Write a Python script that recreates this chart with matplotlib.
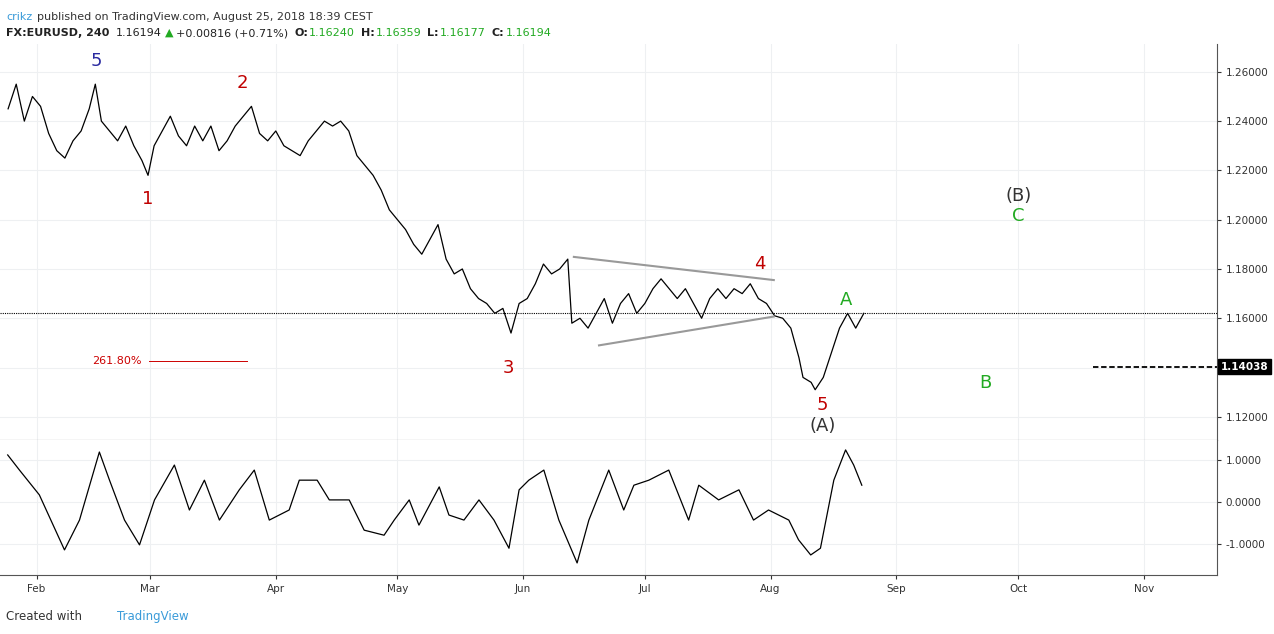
import matplotlib
matplotlib.use("Agg")
import matplotlib.pyplot as plt
import numpy as np

# day-of-year (0 = Jan 1) and EURUSD price
price_days = [24,26,28,30,32,34,36,38,40,42,44,45.5,47,49,51,53,55,57,58.5,60,62,64,66,68,70,72,74,76,78,80,82,84,86,88,90,92,94,96,98,100,102,104,106,108,110,112,114,116,118,120,122,124,126,128,130,132,134,136,138,140,142,144,146,148,150,152,154,156,158,160,162,163,165,167,169,171,173,175,177,179,181,183,185,187,189,191,193,195,197,199,201,203,205,207,209,211,213,215,217,219,220,222,223,225,227,229,231,233,235]
price_vals = [1.245,1.255,1.240,1.250,1.246,1.235,1.228,1.225,1.232,1.236,1.245,1.255,1.240,1.236,1.232,1.238,1.230,1.224,1.218,1.230,1.236,1.242,1.234,1.230,1.238,1.232,1.238,1.228,1.232,1.238,1.242,1.246,1.235,1.232,1.236,1.230,1.228,1.226,1.232,1.236,1.240,1.238,1.240,1.236,1.226,1.222,1.218,1.212,1.204,1.200,1.196,1.190,1.186,1.192,1.198,1.184,1.178,1.180,1.172,1.168,1.166,1.162,1.164,1.154,1.166,1.168,1.174,1.182,1.178,1.180,1.184,1.158,1.160,1.156,1.162,1.168,1.158,1.166,1.170,1.162,1.166,1.172,1.176,1.172,1.168,1.172,1.166,1.160,1.168,1.172,1.168,1.172,1.170,1.174,1.168,1.166,1.161,1.160,1.156,1.144,1.136,1.134,1.131,1.136,1.146,1.156,1.162,1.156,1.162]

osc_days = [23.9,26.8,31.7,37.9,41.6,46.5,49.0,52.7,56.4,60.1,65.0,68.7,72.4,76.1,81.0,84.7,88.4,93.3,95.8,100.2,103.2,108.1,111.8,116.7,119.2,122.9,125.3,130.3,132.7,136.4,140.1,143.8,147.5,150.0,152.4,156.1,159.8,164.3,167.2,172.1,175.8,178.3,182.0,186.9,191.8,194.3,199.2,204.2,207.8,211.5,216.5,218.9,221.9,224.3,227.6,230.5,232.5,234.5]
osc_vals = [1.12,0.76,0.17,-1.14,-0.43,1.19,0.52,-0.43,-1.02,0.05,0.88,-0.19,0.52,-0.43,0.29,0.76,-0.43,-0.19,0.52,0.52,0.05,0.05,-0.67,-0.79,-0.43,0.05,-0.55,0.36,-0.31,-0.43,0.05,-0.43,-1.10,0.29,0.52,0.76,-0.43,-1.45,-0.43,0.76,-0.19,0.40,0.52,0.76,-0.43,0.40,0.05,0.29,-0.43,-0.19,-0.43,-0.90,-1.26,-1.10,0.52,1.24,0.88,0.40]

month_days = [31,59,90,120,151,181,212,243,273,304]
month_labels = ["Feb","Mar","Apr","May","Jun","Jul","Aug","Sep","Oct","Nov"]
price_ticks = [1.12,1.14,1.16,1.18,1.20,1.22,1.24,1.26]
osc_ticks = [1.0,0.0,-1.0]
last_close = 1.16194
level = 1.14038

fig = plt.figure(figsize=(12.74,6.34), dpi=100)
fig.patch.set_facecolor("white")
ax = fig.add_axes([0.0,0.306,0.955,0.625])
ax2 = fig.add_axes([0.0,0.093,0.955,0.213], sharex=ax)
grid_c = "#eef0f2"
for a in (ax, ax2):
    a.yaxis.tick_right()
    a.tick_params(axis="both", labelsize=7.5, colors="#333", length=3)
    for s in a.spines.values():
        s.set_color("#555")
    a.spines["left"].set_visible(False)
    a.spines["top"].set_visible(False)
    a.grid(True, color=grid_c, lw=0.8)
    a.set_axisbelow(True)

ax.set_xlim(22.0, 322.0)
ax.set_ylim(1.1106, 1.2714)
ax.plot(price_days, price_vals, color="black", lw=0.9)
ax.set_yticks(price_ticks)
ax.set_yticklabels(["" if abs(v - level) < 0.005 else f"{v:.5f}" for v in price_ticks])
ax.axhline(last_close, color="black", lw=0.8, ls=(0,(1,1)))
ax.plot([291.6,322.0],[level,level], color="black", lw=1.3, ls=(0,(3,1.5)))
ax.text(1.003, level, f"{level:.5f}", transform=ax.get_yaxis_transform(), fontsize=7.5, color="white",
        fontweight="bold", va="center", ha="left", bbox=dict(facecolor="black", edgecolor="black", pad=2))
ax.plot([163.5,212.8],[1.1849,1.1755], color="#999", lw=1.5)
ax.plot([169.7,212.8],[1.149,1.1607], color="#999", lw=1.5)
ax.plot([58.8,83],[1.1427,1.1427], color="#c00", lw=0.7)
ax.text(57, 1.1427, "261.80%", color="#c00", fontsize=8, ha="right", va="center")
ax.tick_params(axis="x", labelbottom=False)

lab = [("5",45.8,1.2643,"#2a2aa0"),("2",81.7,1.2555,"#c00000"),("1",58.3,1.2084,"#c00000"),
       ("3",147.3,1.140,"#c00000"),("4",209.3,1.182,"#c00000"),("5",224.8,1.1248,"#c00000"),
       ("(A)",224.8,1.1163,"#333"),("(B)",273.1,1.2097,"#333"),("C",273.1,1.2016,"#22aa22"),
       ("A",230.5,1.1674,"#22aa22"),("B",265,1.1337,"#22aa22")]
for t,x,y,c in lab:
    ax.text(x,y,t,color=c,fontsize=13,ha="center",va="center")

ax2.set_ylim(-1.738, 1.476)
ax2.plot(osc_days, osc_vals, color="black", lw=0.9)
ax2.set_yticks(osc_ticks)
ax2.set_yticklabels([f"{v:.4f}" for v in osc_ticks])
ax2.set_xticks(month_days)
ax2.set_xticklabels(month_labels)

fs = 8

def chain(parts, x, y):
    prev = None
    for txt, col, bold, gap in parts:
        kw = dict(color=col, fontsize=fs, fontweight="bold" if bold else "normal", va="baseline", ha="left")
        if prev is None:
            prev = fig.text(x, y, txt, **kw)
        else:
            prev = fig.text(0, 0, txt, **kw)
            prev.set_position((gap, 0))
            prev.set_transform(matplotlib.transforms.offset_copy(
                matplotlib.transforms.blended_transform_factory(fig.transFigure, fig.transFigure),
                fig=fig, x=0, y=0))
    return prev

# simple sequential layout using renderer widths
fig.canvas.draw()
r = fig.canvas.get_renderer()
def seq(parts, x, y):
    cx = x
    for txt, col, bold, gap in parts:
        t = fig.text(cx, y, txt, color=col, fontsize=fs, fontweight="bold" if bold else "normal",
                     va="baseline", ha="left")
        w = t.get_window_extent(renderer=r).width / fig.bbox.width
        cx += w + gap / fig.bbox.width

seq([("crikz", "#3a9bd9", False, 4),
     ("published on TradingView.com, August 25, 2018 18:39 CEST", "#333", False, 0)], 0.005, 0.968)
seq([("FX:EURUSD, 240", "#222", True, 6), ("1.16194", "#222", False, 3), ("▲", "#22aa22", False, 3),
     ("+0.00816 (+0.71%)", "#222", False, 6),
     ("O:", "#222", True, 1), ("1.16240", "#22aa22", False, 6),
     ("H:", "#222", True, 1), ("1.16359", "#22aa22", False, 6),
     ("L:", "#222", True, 1), ("1.16177", "#22aa22", False, 6),
     ("C:", "#222", True, 1), ("1.16194", "#22aa22", False, 0)], 0.005, 0.943)
fig.text(0.005, 0.028, "Created with", color="#333", fontsize=8.5, va="center")
fig.text(0.092, 0.028, "TradingView", color="#3a9bd9", fontsize=8.5, va="center")
fig.savefig("out.png", dpi=100)
